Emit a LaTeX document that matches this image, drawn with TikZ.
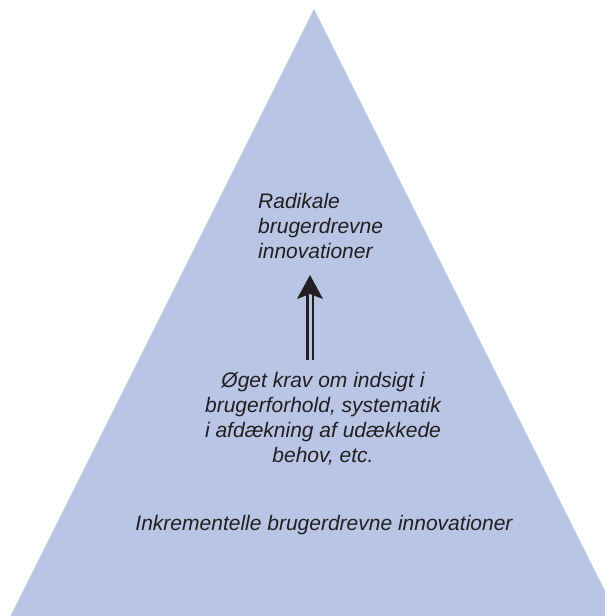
\documentclass[tikz,border=0pt]{standalone}
\usepackage{fontspec}
\setmainfont{Liberation Sans}
\definecolor{pyrfill}{RGB}{184,197,228}
\definecolor{txt}{RGB}{35,31,32}
\tikzset{
  lbl/.style={inner sep=0pt, text=txt, font=\fontsize{21}{25}\selectfont\itshape},
  shaft/.style={draw=txt, line width=2.2pt}
}
\begin{document}
\begin{tikzpicture}[x=1pt,y=-1pt]
\clip (0,0) rectangle (605,616);
\path[fill=pyrfill] (314,9) -- (10,617) -- (618,617) -- cycle;
% texts (base anchor = baseline of last line)
\node[lbl, anchor=base west, align=left] (radikal) at (258,258)
  {Radikale\\brugerdrevne\\innovationer};
\node[lbl, anchor=base, align=center, font=\fontsize{21}{24.7}\selectfont\itshape] (krav) at (323,462)
  {Øget krav om indsigt i\\brugerforhold, systematik\\i afdækning af udækkede\\behov, etc.};
\node[lbl, anchor=base] (inkr) at (324,530) {Inkrementelle brugerdrevne innovationer};
% arrow
\coordinate (abot) at (310,360);
\coordinate (atip) at (310,275);
\coordinate (aneck) at (310,295);
\draw[shaft] ([xshift=-2.6pt]abot) -- ([xshift=-2.6pt]aneck);
\draw[shaft] ([xshift=2.6pt]abot) -- ([xshift=2.6pt]aneck);
\fill[txt] (atip) -- (323,299) -- (310,294) -- (297,299) -- cycle;
\end{tikzpicture}
\end{document}
